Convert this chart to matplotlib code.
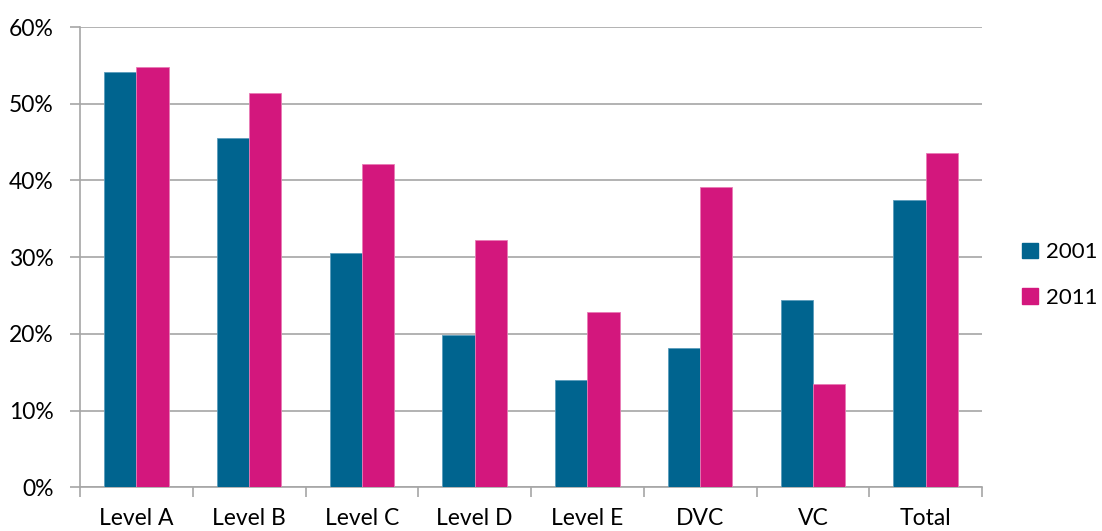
import matplotlib
matplotlib.use("Agg")
import matplotlib.pyplot as plt
import numpy as np
from matplotlib.patches import Patch

categories = ["Level A", "Level B", "Level C", "Level D", "Level E", "DVC", "VC", "Total"]
series_names = ["2001", "2011"]
values_2001 = [54.1, 45.5, 30.6, 19.9, 14.0, 18.2, 24.4, 37.5]
values_2011 = [54.8, 51.4, 42.2, 32.2, 22.9, 39.1, 13.5, 43.6]
y_ticks = [0, 10, 20, 30, 40, 50, 60]

col_2001 = "#00648F"
col_2011 = "#D3177D"
grid_col = "#A6A6A6"

plt.rcParams['font.family'] = ['Lato', 'DejaVu Sans']

fig = plt.figure(figsize=(11.02, 5.31), dpi=100)
W, H = 1102, 531
left, right, top, bottom = 80, 982, 27, 487.3
ax = fig.add_axes([left / W, 1 - bottom / H, (right - left) / W, (bottom - top) / H])

x = np.arange(len(categories)) + 0.5
bw = 0.285
ax.bar(x - bw / 2, values_2001, width=bw, color=col_2001, edgecolor="#5a9cbc", linewidth=0.6, zorder=3)
ax.bar(x + bw / 2, values_2011, width=bw, color=col_2011, edgecolor="#e87bb5", linewidth=0.6, zorder=3)

ax.set_xlim(0, len(categories))
ax.set_ylim(0, 60)
ax.set_yticks(y_ticks)
ax.set_yticklabels([f"{v}%" for v in y_ticks])
ax.yaxis.grid(True, color=grid_col, linewidth=1.2, zorder=0)
ax.set_axisbelow(True)

ax.set_xticks(np.arange(len(categories) + 1))
ax.set_xticklabels([])
ax.set_xticks(x, minor=True)
ax.set_xticklabels(categories, minor=True)
ax.tick_params(axis="x", which="major", length=7, width=1.2, color=grid_col, direction="out")
ax.tick_params(axis="x", which="minor", length=0, pad=15, labelsize=16.5, labelcolor="#000000")
ax.tick_params(axis="y", length=7, width=1.2, color=grid_col, pad=12, labelsize=16.5, labelcolor="#000000")

for s in ["top", "right"]:
    ax.spines[s].set_visible(False)
for s in ["left", "bottom"]:
    ax.spines[s].set_color(grid_col)
    ax.spines[s].set_linewidth(1.2)

handles = [Patch(facecolor=col_2001, edgecolor=col_2001), Patch(facecolor=col_2011, edgecolor=col_2011)]
fig.legend(handles, series_names, loc="center left", bbox_to_anchor=(1022 / W, 1 - 275 / H),
           frameon=False, fontsize=16, handlelength=0.7, handleheight=0.7,
           handletextpad=0.4, labelspacing=1.15, borderaxespad=0, borderpad=0)

fig.savefig("out.png", dpi=100)
